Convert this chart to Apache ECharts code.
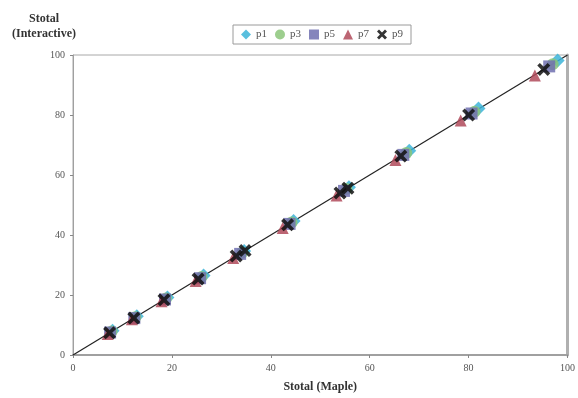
<!DOCTYPE html>
<html>
<head>
<meta charset="utf-8">
<script src="https://cdn.jsdelivr.net/npm/echarts@6/dist/echarts.min.js"></script>
<style>
  html, body { margin: 0; padding: 0; background: #fff; }
  #chart { width: 578px; height: 398px; }
</style>
</head>
<body>
<div id="chart"></div>
<script>
// Stotal (Maple) vs Stotal (Interactive), one list of [x, y] per series
const p1 = [[8.0, 8.1], [12.9, 12.9], [19.1, 19.2], [26.4, 26.5], [34.6, 34.7], [44.6, 44.7], [55.8, 55.9], [68.0, 68.1], [82.0, 82.2], [98.0, 98.2]];
const p3 = [[7.8, 7.8], [12.6, 12.6], [18.8, 18.8], [26.0, 26.0], [34.2, 34.1], [44.2, 44.2], [55.3, 55.3], [67.4, 67.3], [81.2, 81.1], [97.0, 96.9]];
const p5 = [[7.5, 7.5], [12.4, 12.3], [18.6, 18.5], [25.7, 25.6], [33.8, 33.7], [43.8, 43.7], [54.8, 54.7], [66.8, 66.7], [80.6, 80.5], [96.3, 96.2]];
const p7 = [[7.0, 7.0], [11.9, 11.9], [17.9, 17.9], [24.8, 24.7], [32.4, 32.3], [42.4, 42.3], [53.3, 53.2], [65.2, 65.0], [78.4, 78.2], [93.4, 93.2]];
const p9 = [[7.4, 7.4], [12.3, 12.3], [18.4, 18.4], [25.3, 25.3], [33.0, 33.0], [34.8, 34.8], [43.4, 43.4], [54.0, 54.0], [55.6, 55.6], [66.3, 66.3], [80.0, 80.0], [95.2, 95.2]];
const refLine = [[0, 0], [100, 100]];
const seriesNames = ['p1', 'p3', 'p5', 'p7', 'p9'];

const crossPath = 'path://M0,2L2,0L5,3L8,0L10,2L7,5L10,8L8,10L5,7L2,10L0,8L3,5Z';
const serif = '"Liberation Serif", "DejaVu Serif", serif';

var dom = document.getElementById('chart');
var myChart = echarts.init(dom, null, { renderer: 'canvas' });

function pointSeries(name, data, symbol, color, size) {
    return {
        name: name,
        type: 'scatter',
        data: data,
        symbol: symbol,
        symbolSize: size,
        itemStyle: { color: color, opacity: 0.85 },
        z: 3
    };
}

const option = {
    animation: false,
    textStyle: { fontFamily: serif, color: '#333' },
    legend: {
        data: seriesNames,
        top: 25,
        left: 233,
        itemWidth: 10,
        itemHeight: 10,
        itemGap: 8,
        padding: [4, 8],
        borderColor: '#9a9a9a',
        borderWidth: 1,
        textStyle: { fontFamily: serif, fontSize: 11, color: '#555' }
    },
    grid: {
        left: 73,
        right: 10,
        top: 55,
        bottom: 42,
        show: true,
        borderColor: '#a8a8a8',
        borderWidth: 1
    },
    xAxis: {
        type: 'value',
        min: 0,
        max: 100,
        interval: 20,
        name: 'Stotal (Maple)',
        nameLocation: 'middle',
        nameGap: 26,
        nameTextStyle: { fontFamily: serif, fontWeight: 'bold', fontSize: 12, color: '#333' },
        axisLine: { show: true, lineStyle: { color: '#a0a0a0', width: 2 } },
        axisTick: { show: true, length: 3, lineStyle: { color: '#888' } },
        axisLabel: { fontFamily: serif, fontSize: 10, color: '#555', margin: 8 },
        splitLine: { show: false }
    },
    yAxis: [{
        type: 'value',
        min: 0,
        max: 100,
        interval: 20,
        axisLine: { show: true, lineStyle: { color: '#a0a0a0', width: 1 } },
        axisTick: { show: true, length: 3, lineStyle: { color: '#888' } },
        axisLabel: { fontFamily: serif, fontSize: 10, color: '#555', margin: 8 },
        splitLine: { show: false }
    }, {
        type: 'value',
        min: 0,
        max: 100,
        position: 'right',
        axisLine: { show: true, lineStyle: { color: '#b0b0b0', width: 3 } },
        axisTick: { show: false },
        axisLabel: { show: false },
        splitLine: { show: false }
    }],
    graphic: [{
        type: 'text',
        x: 44,
        y: 11,
        style: {
            text: 'Stotal\n(Interactive)',
            align: 'center',
            font: 'bold 12px ' + serif,
            fill: '#333',
            lineHeight: 15
        }
    }],
    series: [
        {
            name: 'ref',
            type: 'line',
            data: refLine,
            symbol: 'none',
            lineStyle: { color: '#222', width: 1.2 },
            z: 2,
            silent: true
        },
        pointSeries('p1', p1, 'diamond', '#3cb4d8', 14),
        pointSeries('p3', p3, 'circle', '#8cc57a', 12),
        pointSeries('p5', p5, 'rect', '#7070b0', 12),
        pointSeries('p7', p7, 'triangle', '#b04a5a', 12),
        pointSeries('p9', p9, crossPath, '#111', 13)
    ]
};

myChart.setOption(option);
</script>
</body>
</html>
